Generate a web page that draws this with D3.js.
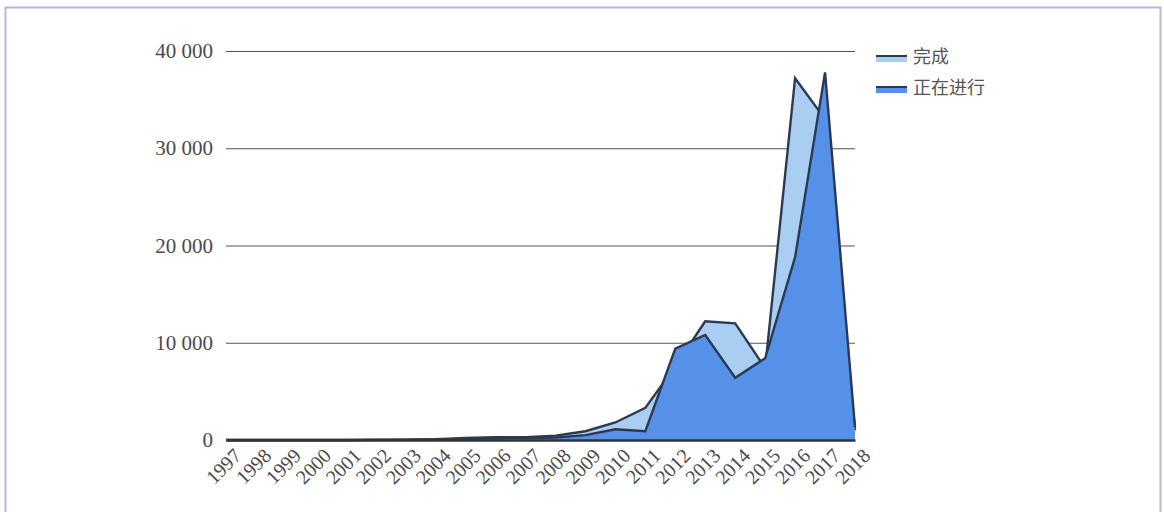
<!DOCTYPE html>
<html lang="zh">
<head>
<meta charset="UTF-8" />
<script src="https://d3js.org/d3.v7.min.js"></script>
<title>Area chart</title>
<style>
  body { margin: 0; background: #fff; }
</style>
</head>
<body>
<svg width="1164" height="512"></svg>
<script>
  // data
  const years = ["1997","1998","1999","2000","2001","2002","2003","2004","2005","2006","2007",
                 "2008","2009","2010","2011","2012","2013","2014","2015","2016","2017","2018"];
  const completed = [0, 0, 0, 0, 0, 20, 40, 80, 200, 300, 300,
                     450, 900, 1800, 3300, 7600, 12200, 12000, 7400, 37200, 33000, 1000];
  const ongoing   = [0, 0, 0, 0, 0, 10, 20, 50, 100, 180, 200,
                     250, 500, 1100, 900, 9400, 10800, 6400, 8400, 18800, 37800, 1300];
  const yTicks = [0, 10000, 20000, 30000, 40000];
  const seriesNames = ["完成", "正在进行"];

  const svg = d3.select("svg");
  const margin = { top: 51, left: 226, right: 309, bottom: 72 };
  const width = 1164 - margin.left - margin.right;
  const height = 512 - margin.top - margin.bottom;

  // frame
  svg.append("rect")
    .attr("x", 5.5).attr("y", 7.5)
    .attr("width", 1155).attr("height", 520)
    .attr("fill", "none")
    .attr("stroke", "#aebce2")
    .attr("stroke-width", 2);

  const g = svg.append("g")
    .attr("transform", `translate(${margin.left},${margin.top})`);

  const x = d3.scalePoint().domain(years).range([0, width]);
  const y = d3.scaleLinear().domain([0, 40000]).range([height, 0]);

  // gridlines + labels
  const yAxis = g.append("g")
    .call(d3.axisLeft(y).tickValues(yTicks).tickSize(-width).tickPadding(13)
      .tickFormat(d => d3.format(",")(d).replace(",", " ")));
  yAxis.select(".domain").remove();
  yAxis.selectAll("line").attr("stroke", "#555").attr("stroke-width", 1.2);
  yAxis.selectAll("text")
    .attr("font-family", "Liberation Serif, serif")
    .attr("font-size", 21)
    .attr("fill", "#4a4a4a");

  const area = vals => d3.area()
    .x((d, i) => x(years[i]))
    .y0(y(0))
    .y1(d => y(d))(vals);

  const line = vals => d3.line()
    .x((d, i) => x(years[i]))
    .y(d => y(d))(vals);

  const fills = ["#aacdf2", "#5591e8"];
  [completed, ongoing].forEach((vals, k) => {
    g.append("path").attr("d", area(vals)).attr("fill", fills[k]);
    g.append("path").attr("d", line(vals))
      .attr("fill", "none").attr("stroke", "#2b3a52").attr("stroke-width", 2.4)
      .attr("stroke-linejoin", "miter");
  });

  // x axis
  const xAxis = g.append("g")
    .attr("transform", `translate(0,${height})`)
    .call(d3.axisBottom(x).tickSize(0));
  xAxis.select(".domain").attr("stroke", "#333").attr("stroke-width", 2.5);
  xAxis.selectAll("text")
    .attr("font-family", "Liberation Serif, serif")
    .attr("font-size", 20)
    .attr("fill", "#4a4a4a")
    .attr("text-anchor", "end")
    .attr("x", 0).attr("y", 0).attr("dy", 0)
    .attr("transform", "translate(16,17) rotate(-45)");

  // legend
  const legend = svg.append("g").attr("transform", "translate(876,58)");
  seriesNames.forEach((name, k) => {
    const row = legend.append("g").attr("transform", `translate(0,${k * 31})`);
    row.append("rect").attr("x", 0).attr("y", -3).attr("width", 31).attr("height", 7)
      .attr("fill", fills[k]);
    row.append("line").attr("x1", 0).attr("x2", 31).attr("y1", -2).attr("y2", -2)
      .attr("stroke", "#2b3a52").attr("stroke-width", 2);
    row.append("text").attr("x", 37).attr("y", -1).attr("dy", "0.35em")
      .attr("font-family", "Noto Sans CJK SC, sans-serif")
      .attr("font-size", 18)
      .attr("fill", "#555")
      .text(name);
  });
</script>
</body>
</html>
